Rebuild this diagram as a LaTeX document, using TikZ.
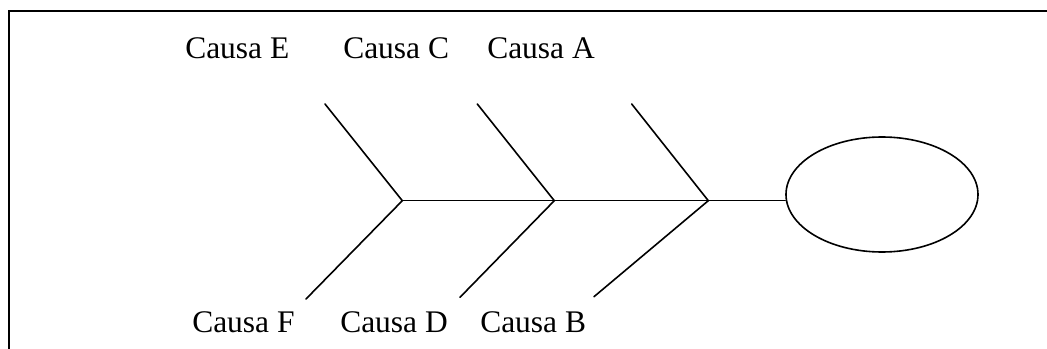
\documentclass[tikz,border=0pt]{standalone}
\usepackage{fontspec}
\setmainfont{Liberation Serif}
\usetikzlibrary{shapes.geometric}
\tikzset{
  bone/.style={line width=1.2pt, line cap=round},
  frameline/.style={line width=1.5pt},
  causa/.style={anchor=base west, inner sep=0pt, font=\fontsize{23.6pt}{27pt}\selectfont},
  headshape/.style={ellipse, draw, line width=1.2pt, inner sep=0pt, minimum width=144pt, minimum height=86.25pt}
}
\begin{document}
\begin{tikzpicture}[x=0.75pt,y=-0.75pt]
\useasboundingbox (0,0) rectangle (1047,349);
% frame
\draw[frameline] (9,349) -- (9,11) -- (1047,11);
% labels
\node[causa] (cE) at (185,59) {Causa E};
\node[causa] (cC) at (343,59) {Causa C};
\node[causa] (cA) at (487,59) {Causa A};
\node[causa] (cF) at (192,333) {Causa F};
\node[causa] (cD) at (340,333) {Causa D};
\node[causa] (cB) at (480,333) {Causa B};
% head
\node[headshape] (head) at (882,194.5) {};
% junctions and bone ends
\coordinate (j1) at (402.3,200.7);
\coordinate (j2) at (554.3,200.7);
\coordinate (j3) at (708.3,200.7);
\coordinate (u1) at (325,104);
\coordinate (u2) at (477.3,104);
\coordinate (u3) at (631.7,104);
\coordinate (l1) at (306,299);
\coordinate (l2) at (460,297.3);
\coordinate (l3) at (594,296.7);
% spine
\draw[bone] (j1) -- (j2) -- (j3) -- (j3 -| head.west);
% bones
\draw[bone] (u1) -- (j1) -- (l1);
\draw[bone] (u2) -- (j2) -- (l2);
\draw[bone] (u3) -- (j3) -- (l3);
\end{tikzpicture}
\end{document}
